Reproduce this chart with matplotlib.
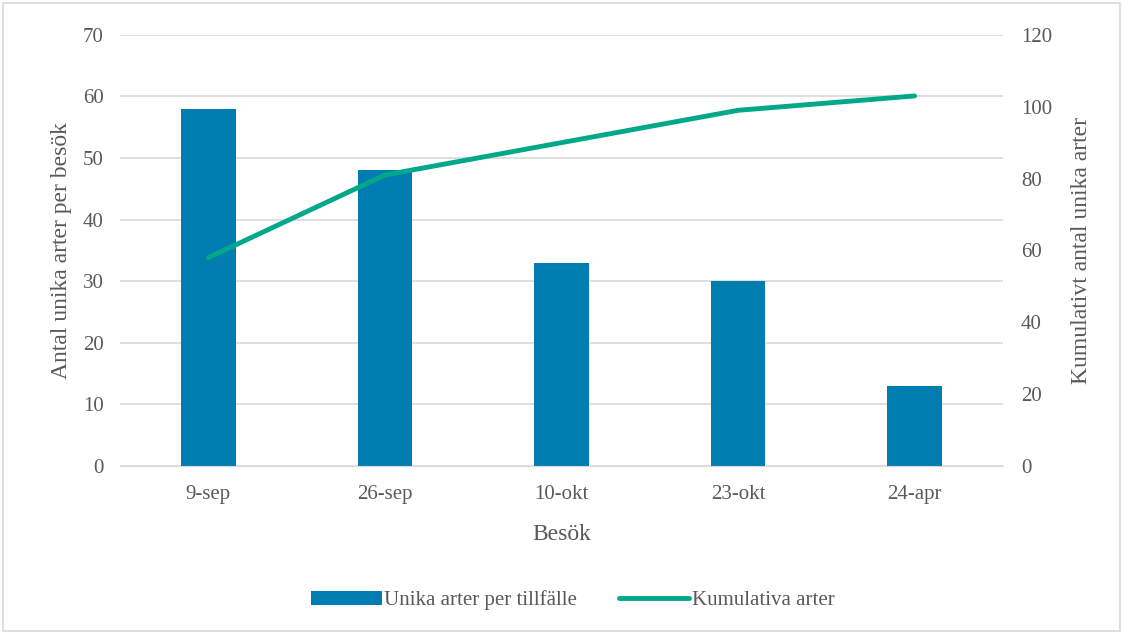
import matplotlib.pyplot as plt
from matplotlib.patches import Rectangle

plt.rcParams['font.family'] = ['Liberation Serif', 'DejaVu Serif']

dates = ['9-sep', '26-sep', '10-okt', '23-okt', '24-apr']
unika = [58, 48, 33, 30, 13]
kumulativa = [58, 81, 90, 99, 103]

text_color = '#595959'
grid_color = '#d9d9d9'

fig = plt.figure(figsize=(11.23, 6.34), dpi=100)
ax = fig.add_axes([0.107, 0.265, 0.786, 0.680])
ax2 = ax.twinx()

x = list(range(len(dates)))
bars = ax.bar(x, unika, width=0.31, color='#007DB0', zorder=2, label='Unika arter per tillfälle')
line, = ax2.plot(x, kumulativa, color='#00A88A', linewidth=3.5, solid_capstyle='round',
                 label='Kumulativa arter', zorder=3)

ax.set_xlim(-0.5, 4.5)
ax.set_ylim(0, 70)
ax.set_yticks(range(0, 71, 10))
ax2.set_ylim(0, 120)
ax2.set_yticks(range(0, 121, 20))

ax.set_xticks(x)
ax.set_xticklabels(dates)
ax.yaxis.grid(True, color=grid_color, linewidth=1.2, zorder=0)
ax.set_axisbelow(True)

for a in (ax, ax2):
    for s in a.spines.values():
        s.set_visible(False)
    a.tick_params(length=0, labelsize=15, colors=text_color)
ax.spines['bottom'].set_visible(True)
ax.spines['bottom'].set_color(grid_color)
ax.tick_params(axis='x', pad=14)
ax.tick_params(axis='y', pad=12)
ax2.tick_params(axis='y', pad=13)

ax.set_xlabel('Besök', fontsize=17, color=text_color, labelpad=14)
ax.set_ylabel('Antal unika arter per besök', fontsize=17, color=text_color, labelpad=8)
ax2.set_ylabel('Kumulativt antal unika arter', fontsize=17, color=text_color, labelpad=14)

ax2.set_zorder(ax.get_zorder() + 1)
ax2.patch.set_visible(False)

fig.legend([bars, line], ['Unika arter per tillfälle', 'Kumulativa arter'],
           loc='center', bbox_to_anchor=(0.51, 0.053), ncol=2, frameon=False,
           fontsize=15, labelcolor=text_color, handlelength=3.4, handletextpad=0.1,
           columnspacing=2.0)

fig.patches.append(Rectangle((0.003, 0.004), 0.994, 0.992, transform=fig.transFigure,
                             fill=False, edgecolor='#d9d9d9', linewidth=1.2))

fig.savefig('out.png', dpi=100)
